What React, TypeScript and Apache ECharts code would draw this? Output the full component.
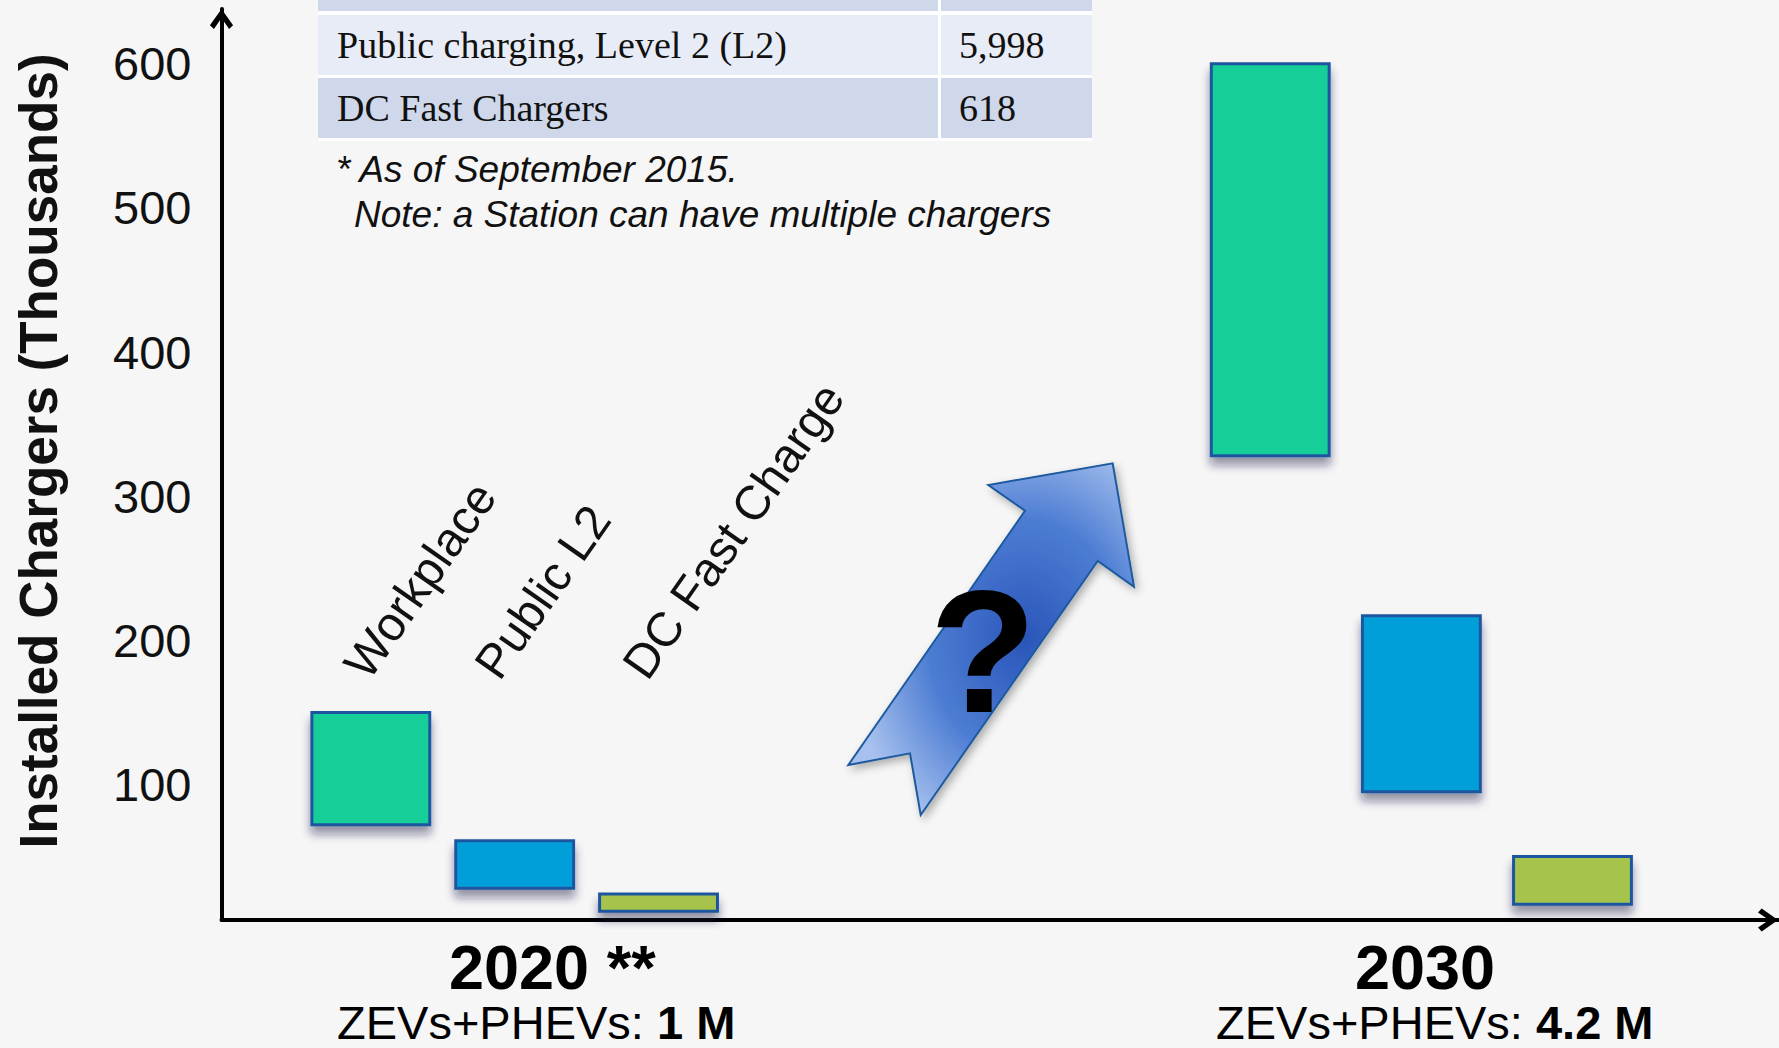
import React, { useEffect, useRef } from 'react';
import * as echarts from 'echarts';

// ---- data ----
const categories = ['Workplace', 'Public L2', 'DC Fast Charge'];
const years = ['2020 **', '2030'];
const fleetLabel = 'ZEVs+PHEVs: ';
const fleetValues = ['1 M', '4.2 M'];
const low2020 = [72, 28, 12];
const high2020 = [150, 61, 24];
const low2030 = [328, 95, 17];
const high2030 = [600, 217, 50];
const yTicks = [100, 200, 300, 400, 500, 600];
const tableRows = [
  ['Public charging, Level 2 (L2)', '5,998'],
  ['DC Fast Chargers', '618'],
];
const notes = ['* As of September 2015.', 'Note: a Station can have multiple chargers'];
const yTitle = 'Installed Chargers (Thousands)';

const barColors = ['#12CE98', '#029FD9', '#A6C44B'];
const groupStep = [0.952, 1.0];
const labelShift = [4, -9, -5];
const SANS = '"Liberation Sans", Arial, sans-serif';
const SERIF = '"Liberation Serif", "DejaVu Serif", serif';

const App: React.FC = () => {
  const ref = useRef<HTMLDivElement>(null);

  useEffect(() => {
    if (!ref.current) return;
    const chart = echarts.init(ref.current, undefined, { renderer: 'svg' });

    const groups = [
      { low: low2020, high: high2020 },
      { low: low2030, high: high2030 },
    ];
    const barData: number[][] = [];
    groups.forEach((g, gi) => {
      categories.forEach((_, ci) => {
        barData.push([gi * 6 + 1 + (ci - 1) * groupStep[gi], g.low[ci], g.high[ci], ci, gi]);
      });
    });

    const HALF = 0.39;
    const LABEL_VALUE = 168;
    const chevron = 'path://M0,0 L11,15.5 L7.2,19 L0,8.5 L-7.2,19 L-11,15.5 Z';

    const option: any = {
      animation: false,
      backgroundColor: '#F6F6F6',
      grid: { left: 221.5, right: 1, top: 9, bottom: 128, containLabel: false },
      xAxis: {
        type: 'value',
        min: -0.94,
        max: 9.36,
        axisLine: {
          show: true,
          onZero: false,
          lineStyle: { color: '#000', width: 4 },
          symbol: ['none', chevron],
          symbolSize: [24, 20],
          symbolOffset: [0, -10],
        },
        axisTick: { show: false },
        axisLabel: { show: false },
        splitLine: { show: false },
      },
      yAxis: {
        type: 'value',
        min: 6,
        max: 638,
        axisLine: {
          show: true,
          onZero: false,
          lineStyle: { color: '#000', width: 4 },
          symbol: ['none', chevron],
          symbolSize: [24, 20],
          symbolOffset: [0, -10],
        },
        axisTick: { show: false },
        splitLine: { show: false },
        axisLabel: {
          customValues: yTicks,
          fontSize: 47,
          fontFamily: SANS,
          color: '#111',
          margin: 30,
        },
      },
      series: [
        {
          type: 'custom',
          data: barData,
          encode: { x: 0, y: [1, 2] },
          renderItem: (params: any, api: any) => {
            const x = api.value(0);
            const lo = api.value(1);
            const hi = api.value(2);
            const ci = api.value(3);
            const gi = api.value(4);
            const p0 = api.coord([x - HALF, hi]);
            const p1 = api.coord([x + HALF, lo]);
            const children: any[] = [
              {
                type: 'rect',
                shape: { x: p0[0], y: p0[1], width: p1[0] - p0[0], height: p1[1] - p0[1] },
                style: {
                  fill: barColors[ci],
                  stroke: '#1F57A0',
                  lineWidth: 3,
                  shadowBlur: 10,
                  shadowColor: 'rgba(20,30,70,0.45)',
                  shadowOffsetY: 8,
                },
              },
            ];
            if (gi === 0) {
              const pl = api.coord([x, LABEL_VALUE]);
              children.push({
                type: 'text',
                x: pl[0] + labelShift[ci],
                y: pl[1],
                rotation: (55 * Math.PI) / 180,
                style: {
                  text: categories[ci],
                  font: `48px ${SANS}`,
                  fill: '#111',
                  textAlign: 'left',
                  textVerticalAlign: 'bottom',
                },
              });
            }
            return { type: 'group', children };
          },
        },
      ],
      graphic: [
        // table
        { type: 'rect', shape: { x: 318, y: 0, width: 774, height: 141 }, style: { fill: '#FFFFFF' }, z: 1 },
        { type: 'rect', shape: { x: 318, y: 0, width: 620, height: 11 }, style: { fill: '#CFD7EA' }, z: 2 },
        { type: 'rect', shape: { x: 941, y: 0, width: 151, height: 11 }, style: { fill: '#CFD7EA' }, z: 2 },
        { type: 'rect', shape: { x: 318, y: 15, width: 620, height: 60 }, style: { fill: '#E8ECF6' }, z: 2 },
        { type: 'rect', shape: { x: 941, y: 15, width: 151, height: 60 }, style: { fill: '#E8ECF6' }, z: 2 },
        { type: 'rect', shape: { x: 318, y: 78, width: 620, height: 60 }, style: { fill: '#CFD7EA' }, z: 2 },
        { type: 'rect', shape: { x: 941, y: 78, width: 151, height: 60 }, style: { fill: '#CFD7EA' }, z: 2 },
        ...tableRows.flatMap((row, i) => [
          {
            type: 'text', x: 337, y: 45 + i * 63, z: 3,
            style: { text: row[0], font: `38px ${SERIF}`, fill: '#111', textAlign: 'left', textVerticalAlign: 'middle' },
          },
          {
            type: 'text', x: 959, y: 45 + i * 63, z: 3,
            style: { text: row[1], font: `38px ${SERIF}`, fill: '#111', textAlign: 'left', textVerticalAlign: 'middle' },
          },
        ]),
        // notes
        {
          type: 'text', x: 336, y: 169, z: 3,
          style: { text: notes[0], font: `italic 37px ${SANS}`, fill: '#111', textAlign: 'left', textVerticalAlign: 'middle' },
        },
        {
          type: 'text', x: 354, y: 214, z: 3,
          style: { text: notes[1], font: `italic 37px ${SANS}`, fill: '#111', textAlign: 'left', textVerticalAlign: 'middle' },
        },
        // growth arrow
        {
          type: 'polygon',
          z: 4,
          shape: {
            points: [
              [1112.7, 463.3], [1134, 586.7], [1097.7, 561], [920.7, 815],
              [910, 753.3], [848.3, 765], [1025, 510.7], [988.3, 485],
            ],
          },
          style: {
            fill: new echarts.graphic.RadialGradient(0.62, 0.5, 0.62, [
              { offset: 0, color: '#2A56BA' },
              { offset: 0.55, color: '#4D7DD3' },
              { offset: 1, color: '#A7C1EE' },
            ]),
            stroke: '#1F5AA0',
            lineWidth: 2,
            shadowBlur: 8,
            shadowColor: 'rgba(0,0,0,0.3)',
            shadowOffsetX: 3,
            shadowOffsetY: 4,
          },
        },
        {
          type: 'text', x: 983, y: 651, z: 5,
          style: { text: '?', font: `bold 175px ${SANS}`, fill: '#000', textAlign: 'center', textVerticalAlign: 'middle' },
        },
        // y title
        {
          type: 'text', x: 38, y: 451, rotation: Math.PI / 2, z: 3,
          style: { text: yTitle, font: `bold 53px ${SANS}`, fill: '#111', textAlign: 'center', textVerticalAlign: 'middle' },
        },
        // year labels
        {
          type: 'text', x: 449, y: 967, z: 3,
          style: { text: years[0], font: `bold 63px ${SANS}`, fill: '#000', textAlign: 'left', textVerticalAlign: 'middle' },
        },
        {
          type: 'text', x: 1425, y: 967, z: 3,
          style: { text: years[1], font: `bold 63px ${SANS}`, fill: '#000', textAlign: 'center', textVerticalAlign: 'middle' },
        },
        ...fleetValues.map((v, i) => ({
          type: 'text', x: i === 0 ? 337 : 1216, y: 1022, z: 3,
          style: {
            text: `{n|${fleetLabel}}{b|${v}}`,
            textAlign: 'left',
            textVerticalAlign: 'middle',
            rich: {
              n: { font: `47px ${SANS}`, fill: '#000' },
              b: { font: `bold 47px ${SANS}`, fill: '#000' },
            },
          },
        })),
      ],
    };

    chart.setOption(option);
    return () => chart.dispose();
  }, []);

  return (
    <div
      ref={ref}
      style={{ position: 'absolute', left: 0, top: 0, width: 1779, height: 1048 }}
    />
  );
};

export default App;
